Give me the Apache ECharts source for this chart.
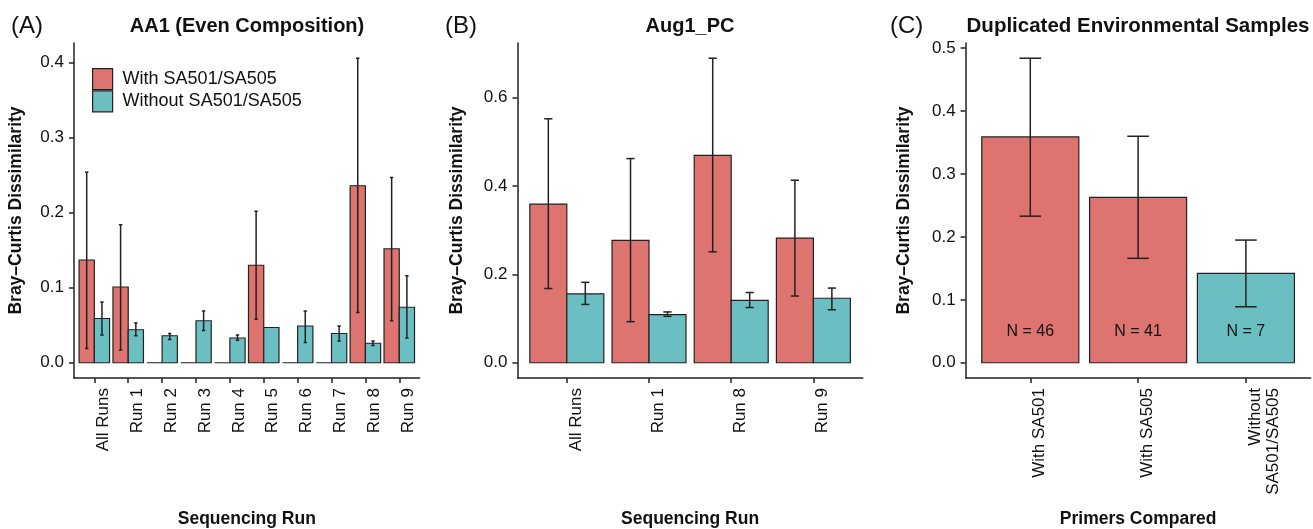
<!DOCTYPE html>
<html>
<head>
<meta charset="utf-8">
<title>Bray-Curtis Dissimilarity</title>
<script src="https://cdn.jsdelivr.net/npm/echarts@6/dist/echarts.min.js"></script>
</head>
<body style="margin:0;background:#fff">
<div id="main" style="width:1313px;height:529px;"></div>
<script type="text/javascript">
var RED = '#DD746F', TEAL = '#6BBFC3', INK = '#222';
var FONT = '"Liberation Sans", Arial, Helvetica, sans-serif';

// (A) AA1 (Even Composition)
var runsA = ['All Runs', 'Run 1', 'Run 2', 'Run 3', 'Run 4', 'Run 5', 'Run 6', 'Run 7', 'Run 8', 'Run 9'];
var withA = [0.137, 0.101, 0, 0, 0, 0.130, 0, 0, 0.236, 0.152];
var withA_lo = [0.019, 0.017, null, null, null, 0.058, null, null, 0.067, 0.056];
var withA_hi = [0.254, 0.184, null, null, null, 0.202, null, null, 0.406, 0.247];
var withoutA = [0.059, 0.044, 0.036, 0.056, 0.033, 0.047, 0.049, 0.039, 0.026, 0.074];
var withoutA_lo = [0.037, 0.036, 0.031, 0.043, 0.030, null, 0.027, 0.029, 0.023, 0.033];
var withoutA_hi = [0.081, 0.053, 0.039, 0.069, 0.037, null, 0.069, 0.049, 0.029, 0.116];
var ticksA = [0, 0.1, 0.2, 0.3, 0.4];

// (B) Aug1_PC
var runsB = ['All Runs', 'Run 1', 'Run 8', 'Run 9'];
var withB = [0.359, 0.277, 0.469, 0.282];
var withB_lo = [0.168, 0.093, 0.251, 0.151];
var withB_hi = [0.552, 0.462, 0.689, 0.413];
var withoutB = [0.156, 0.109, 0.141, 0.146];
var withoutB_lo = [0.132, 0.105, 0.125, 0.120];
var withoutB_hi = [0.182, 0.115, 0.159, 0.169];
var ticksB = [0, 0.2, 0.4, 0.6];

// (C) Duplicated Environmental Samples
var primersC = ['With SA501', 'With SA505', 'Without\nSA501/SA505'];
var groupC = ['with', 'with', 'without'];
var valC = [0.359, 0.263, 0.142];
var valC_lo = [0.233, 0.166, 0.089];
var valC_hi = [0.484, 0.360, 0.195];
var nC = ['N = 46', 'N = 41', 'N = 7'];
var nLabelY = 0.05;
var ticksC = [0, 0.1, 0.2, 0.3, 0.4, 0.5];

var myChart = echarts.init(document.getElementById('main'));

// ggplot style: 5% expansion of [0, max] on y, 0.6 units on discrete x
function yRange(hi) {
    var m = 0;
    hi.forEach(function (v) { if (v != null && v > m) m = v; });
    return [-0.05 * m, m * 1.05];
}

function xAxis(gi, names, title) {
    var idx = names.map(function (_, i) { return i; });
    return {
        gridIndex: gi, type: 'value', min: -0.6, max: names.length - 0.4,
        splitLine: { show: false },
        axisLine: { show: true, onZero: false, lineStyle: { color: INK, width: 1.5 } },
        axisTick: { show: true, customValues: idx, length: 5, lineStyle: { color: INK, width: 1.5 } },
        axisLabel: {
            customValues: idx, rotate: 90, margin: 10, fontSize: 17, fontFamily: FONT, color: '#111',
            align: 'right', verticalAlign: 'top', lineHeight: 18,
            formatter: function (v) { return names[Math.round(v)]; }
        },
        name: title, nameLocation: 'middle', nameGap: 132,
        nameTextStyle: { fontSize: 17.5, fontWeight: 'bold', fontFamily: FONT, color: '#111' }
    };
}

function yAxis(gi, ticks, range, gap) {
    return {
        gridIndex: gi, type: 'value', min: range[0], max: range[1],
        splitLine: { show: false },
        axisLine: { show: true, onZero: false, lineStyle: { color: INK, width: 1.5 } },
        axisTick: { show: true, customValues: ticks, length: 5, lineStyle: { color: INK, width: 1.5 } },
        axisLabel: {
            customValues: ticks, margin: 10, fontSize: 17, fontFamily: FONT, color: '#111',
            formatter: function (v) { return v.toFixed(1); }
        },
        name: 'Bray\u2013Curtis Dissimilarity', nameLocation: 'middle', nameGap: gap,
        nameTextStyle: { fontSize: 17.5, fontWeight: 'bold', fontFamily: FONT, color: '#111' }
    };
}

function bars(gi, name, vals, off, w, colorOf) {
    return {
        type: 'custom', name: name, xAxisIndex: gi, yAxisIndex: gi,
        itemStyle: { color: colorOf(0) },
        data: vals.map(function (v, i) { return [i, v]; }),
        renderItem: function (params, api) {
            var i = api.value(0), v = api.value(1);
            var p0 = api.coord([i + off - w / 2, 0]);
            var p1 = api.coord([i + off + w / 2, v]);
            return {
                type: 'rect',
                shape: { x: p0[0], y: p1[1], width: p1[0] - p0[0], height: p0[1] - p1[1] },
                style: { fill: colorOf(params.dataIndex), stroke: INK, lineWidth: 1.2 }
            };
        }
    };
}

function errors(gi, lo, hi, off, cap) {
    var data = [];
    lo.forEach(function (v, i) { if (v != null) data.push([i, v, hi[i]]); });
    return {
        type: 'custom', xAxisIndex: gi, yAxisIndex: gi, silent: true, z: 5,
        encode: { x: 0, y: [1, 2] },
        data: data,
        renderItem: function (params, api) {
            var i = api.value(0) + off;
            var a = api.coord([i, api.value(1)]), b = api.coord([i, api.value(2)]);
            var l = api.coord([i - cap, 0])[0], r = api.coord([i + cap, 0])[0];
            var st = { stroke: INK, lineWidth: 1.5 };
            return {
                type: 'group', children: [
                    { type: 'line', shape: { x1: a[0], y1: a[1], x2: b[0], y2: b[1] }, style: st },
                    { type: 'line', shape: { x1: l, y1: a[1], x2: r, y2: a[1] }, style: st },
                    { type: 'line', shape: { x1: l, y1: b[1], x2: r, y2: b[1] }, style: st }
                ]
            };
        }
    };
}

function nLabels(gi, labels, y) {
    return {
        type: 'custom', xAxisIndex: gi, yAxisIndex: gi, silent: true, z: 6,
        data: labels.map(function (_, i) { return [i, y]; }),
        renderItem: function (params, api) {
            var p = api.coord([api.value(0), api.value(1)]);
            return {
                type: 'text', x: p[0], y: p[1],
                style: { text: labels[params.dataIndex], fontSize: 16, fontFamily: FONT, fill: '#111', align: 'center', verticalAlign: 'middle' }
            };
        }
    };
}

function red() { return RED; }
function teal() { return TEAL; }

function panelText(x, y, text, size, bold, align) {
    return {
        type: 'text', x: x, y: y,
        style: { text: text, fontSize: size, fontWeight: bold ? 'bold' : 'normal', fontFamily: FONT, fill: '#111', align: align, verticalAlign: 'middle' }
    };
}

var option = {
    backgroundColor: '#fff',
    animation: false,
    grid: [
        { left: 74, top: 43, width: 345.6, height: 335, outerBoundsMode: 'none', containLabel: false },
        { left: 517.5, top: 43, width: 345.2, height: 335, outerBoundsMode: 'none', containLabel: false },
        { left: 965.6, top: 43, width: 345, height: 335, outerBoundsMode: 'none', containLabel: false }
    ],
    legend: {
        data: ['With SA501/SA505', 'Without SA501/SA505'],
        orient: 'vertical', left: 92, top: 68, padding: 0,
        itemWidth: 20, itemHeight: 21, itemGap: 0, icon: 'rect',
        itemStyle: { borderColor: INK, borderWidth: 1.2 },
        textStyle: { fontSize: 18, fontFamily: FONT, color: '#111', lineHeight: 21, padding: [0, 0, 0, 5] }
    },
    graphic: [
        panelText(11, 26, '(A)', 24, false, 'left'),
        panelText(247, 26.5, 'AA1 (Even Composition)', 20, true, 'center'),
        panelText(445, 26, '(B)', 24, false, 'left'),
        panelText(690, 26, 'Aug1_PC', 20, true, 'center'),
        panelText(890, 26, '(C)', 24, false, 'left'),
        panelText(1138, 26, 'Duplicated Environmental Samples', 20.5, true, 'center')
    ],
    xAxis: [
        xAxis(0, runsA, 'Sequencing Run'),
        xAxis(1, runsB, 'Sequencing Run'),
        xAxis(2, primersC, 'Primers Compared')
    ],
    yAxis: [
        yAxis(0, ticksA, yRange(withA_hi.concat(withoutA_hi)), 49),
        yAxis(1, ticksB, yRange(withB_hi.concat(withoutB_hi)), 51),
        yAxis(2, ticksC, yRange(valC_hi), 52)
    ],
    series: [
        bars(0, 'With SA501/SA505', withA, -0.225, 0.45, red),
        bars(0, 'Without SA501/SA505', withoutA, 0.225, 0.45, teal),
        errors(0, withA_lo, withA_hi, -0.225, 0.05),
        errors(0, withoutA_lo, withoutA_hi, 0.225, 0.05),
        bars(1, 'With SA501/SA505', withB, -0.225, 0.45, red),
        bars(1, 'Without SA501/SA505', withoutB, 0.225, 0.45, teal),
        errors(1, withB_lo, withB_hi, -0.225, 0.05),
        errors(1, withoutB_lo, withoutB_hi, 0.225, 0.05),
        bars(2, 'Primers', valC, 0, 0.9, function (i) { return groupC[i] === 'with' ? RED : TEAL; }),
        errors(2, valC_lo, valC_hi, 0, 0.1),
        nLabels(2, nC, nLabelY)
    ]
};

myChart.setOption(option);
</script>
</body>
</html>
